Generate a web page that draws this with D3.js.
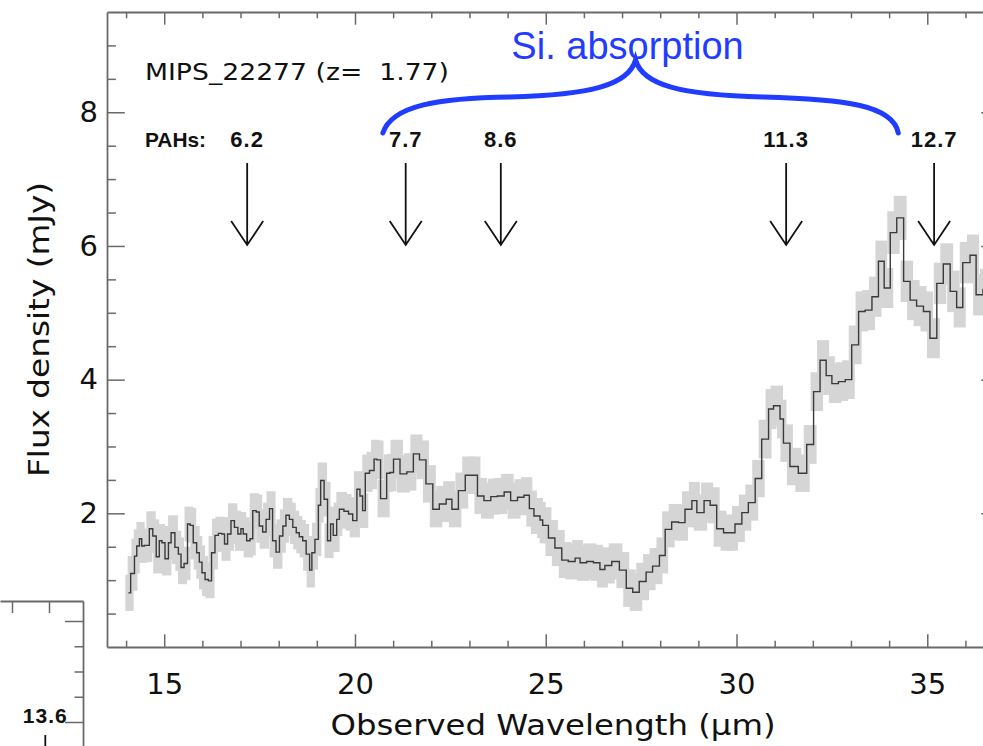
<!DOCTYPE html>
<html>
<head>
<meta charset="utf-8">
<script src="https://cdn.jsdelivr.net/npm/d3@7"></script>
<style>
body{margin:0;background:#fff;overflow:hidden}
</style>
</head>
<body>
<script>
// spectrum of MIPS_22277 (bin left edges + final right edge, in micron)
var waveEdges = [14.06,14.12,14.22,14.28,14.35,14.41,14.48,14.61,14.70,14.79,
  14.87,14.94,15.02,15.11,15.18,15.28,15.37,15.44,15.52,15.61,
  15.68,15.76,15.85,15.92,15.99,16.07,16.16,16.24,16.33,16.42,
  16.51,16.58,16.66,16.75,16.84,16.93,17.01,17.07,17.16,17.25,
  17.32,17.41,17.49,17.58,17.67,17.76,17.84,17.93,18.02,18.11,
  18.19,18.28,18.37,18.46,18.54,18.63,18.72,18.81,18.87,18.95,
  19.04,19.10,19.19,19.28,19.36,19.43,19.52,19.59,19.71,19.83,
  19.94,20.05,20.13,20.20,20.27,20.38,20.50,20.57,20.67,20.83,
  20.92,21.01,21.18,21.36,21.53,21.69,21.86,22.04,22.21,22.39,
  22.54,22.71,22.89,23.05,23.21,23.38,23.56,23.73,23.91,24.08,
  24.26,24.43,24.57,24.69,24.85,24.92,25.07,25.24,25.42,25.59,
  25.77,25.90,26.07,26.25,26.42,26.55,26.73,26.93,27.11,27.28,
  27.45,27.63,27.80,27.98,28.13,28.30,28.48,28.65,28.83,28.96,
  29.15,29.31,29.48,29.66,29.83,29.96,30.14,30.31,30.49,30.66,
  30.84,30.97,31.14,31.23,31.40,31.62,31.84,32.02,32.19,32.35,
  32.50,32.67,32.85,33.02,33.20,33.37,33.55,33.72,33.87,34.03,
  34.20,34.38,34.55,34.72,34.90,35.07,35.25,35.42,35.60,35.77,
  35.93,36.12,36.28,36.46,36.70];
var fluxValues = [0.81,1.10,1.36,1.51,1.62,1.51,1.52,1.77,1.66,1.35,
  1.59,1.56,1.32,1.56,1.71,1.49,1.39,1.19,1.25,1.84,
  1.82,1.56,1.41,1.27,1.11,1.01,0.99,1.41,1.67,1.70,
  1.69,1.54,1.69,1.89,1.79,1.69,1.77,1.69,1.59,1.62,
  2.04,2.02,1.81,1.72,1.91,2.07,1.59,1.42,1.66,1.81,
  1.97,1.91,1.79,1.71,1.65,1.59,1.39,1.15,1.41,1.61,
  2.12,2.49,2.21,1.59,1.84,1.67,1.91,2.06,2.03,1.99,
  1.89,2.36,2.26,2.04,2.60,2.64,2.81,2.80,2.22,2.60,
  2.61,2.81,2.59,2.62,2.89,2.80,2.44,2.06,2.14,2.21,
  2.06,2.34,2.57,2.57,2.26,2.19,2.25,2.26,2.32,2.19,
  2.24,2.27,2.07,1.96,1.90,1.82,1.63,1.48,1.30,1.28,
  1.33,1.26,1.28,1.26,1.16,1.22,1.28,1.15,0.88,0.82,
  0.98,1.12,1.21,1.37,1.76,1.87,1.86,2.06,2.19,2.01,
  2.19,2.12,1.77,1.71,1.71,1.84,2.01,2.16,2.52,3.11,
  3.56,3.61,3.41,3.05,2.70,2.60,3.03,3.82,4.29,4.06,
  3.94,3.97,4.00,4.52,5.02,5.04,5.24,5.77,5.37,6.20,
  6.42,5.47,5.19,5.10,5.02,4.62,5.44,5.73,5.32,5.08,
  5.75,5.86,5.27,5.35];
var fluxErrors = [0.27,0.26,0.26,0.25,0.25,0.25,0.25,0.26,0.25,0.25,
  0.25,0.25,0.25,0.25,0.26,0.25,0.25,0.25,0.25,0.26,
  0.26,0.25,0.25,0.25,0.25,0.25,0.26,0.25,0.25,0.25,
  0.25,0.25,0.25,0.26,0.25,0.25,0.25,0.25,0.25,0.25,
  0.26,0.26,0.25,0.25,0.25,0.26,0.25,0.25,0.25,0.25,
  0.26,0.25,0.25,0.25,0.25,0.25,0.25,0.26,0.25,0.25,
  0.26,0.27,0.26,0.26,0.26,0.25,0.25,0.26,0.26,0.25,
  0.25,0.27,0.26,0.26,0.28,0.28,0.29,0.29,0.28,0.28,
  0.28,0.29,0.28,0.28,0.29,0.29,0.28,0.27,0.27,0.27,
  0.27,0.27,0.28,0.28,0.27,0.27,0.27,0.27,0.27,0.27,
  0.27,0.27,0.27,0.27,0.27,0.27,0.27,0.27,0.27,0.27,
  0.27,0.27,0.27,0.27,0.27,0.27,0.27,0.27,0.28,0.28,
  0.28,0.27,0.27,0.27,0.27,0.27,0.27,0.27,0.28,0.27,
  0.27,0.27,0.27,0.27,0.27,0.27,0.27,0.27,0.28,0.29,
  0.30,0.30,0.29,0.28,0.28,0.28,0.29,0.29,0.30,0.29,
  0.29,0.29,0.29,0.29,0.30,0.30,0.30,0.31,0.30,0.32,
  0.33,0.31,0.30,0.30,0.30,0.30,0.31,0.31,0.31,0.30,
  0.31,0.31,0.31,0.31];

var xTickValues = [15,20,25,30,35];
var xMinorTicks = [14,16,17,18,19,21,22,23,24,26,27,28,29,31,32,33,34,36];
var yTickValues = [2,4,6,8];
var yMinorTicks = [0.5,1,1.5,2.5,3,3.5,4.5,5,5.5,6.5,7,7.5,8.5,9];

var sourceName = "MIPS_22277";
var redshift = 1.77;
var pahRest = [6.2,7.7,8.6,11.3,12.7];
var pahLabels = ["6.2","7.7","8.6","11.3","12.7"];
var siRange = [20.73,34.24];   // observed micron covered by the brace

// bits of the neighbouring panel peeking in at the bottom left
var fragTopTicks = [0,1];
var fragSideTicks = [0,1];
var fragSideMinor = [0.25,0.5,0.75];
var fragLabel = "13.6";
var fragArrowAt = 0.9;

var svgWidth = 983, svgHeight = 746;
var plot = {left:107, right:999, top:12, bottom:647};
var axisColor = "#6a6a6a";
var thinFont = "'DejaVu Sans', sans-serif";
var boldFont = "'Liberation Sans', Arial, sans-serif";

var svg = d3.select("body").append("svg")
    .attr("width", svgWidth)
    .attr("height", svgHeight)
    .style("font-family", thinFont);

var x = d3.scaleLinear().domain([13.5, 36.88]).range([plot.left, plot.right]);
var y = d3.scaleLinear().domain([0, 9.5]).range([plot.bottom, plot.top]);

svg.append("clipPath").attr("id", "plotClip")
  .append("rect")
  .attr("x", plot.left).attr("y", plot.top)
  .attr("width", plot.right - plot.left)
  .attr("height", plot.bottom - plot.top);

var bins = fluxValues.map(function(v, i){
  return {w0: waveEdges[i], w1: waveEdges[i+1], f: v, e: fluxErrors[i]};
});

// step points: every left edge, then the last right edge carrying the last value
var pts = bins.map(function(b){ return {w: b.w0, f: b.f}; });
pts.push({w: bins[bins.length-1].w1, f: bins[bins.length-1].f});

var line = d3.line()
    .curve(d3.curveStepAfter)
    .x(function(d){ return x(d.w); })
    .y(function(d){ return y(d.f); });

var spec = svg.append("g").attr("clip-path", "url(#plotClip)");

// error bars drawn as thick grey blocks, a bit wider than the bin
var barPad = 6;
spec.selectAll(".errBar")
  .data(bins)
  .enter().append("rect")
  .attr("class", "errBar")
  .attr("x", function(b){ return x(b.w0) - barPad / 2; })
  .attr("width", function(b){ return x(b.w1) - x(b.w0) + barPad; })
  .attr("y", function(b){ return y(b.f + b.e); })
  .attr("height", function(b){ return y(b.f - b.e) - y(b.f + b.e); })
  .attr("fill", "#d5d5d5");

spec.append("path").datum(pts)
  .attr("d", line)
  .attr("fill", "none")
  .attr("stroke", "#3a3a3a")
  .attr("stroke-width", 1.4);

// axes, IDL style: ticks on all four sides pointing in
function styleAxis(g){
  g.selectAll(".domain").attr("stroke", axisColor).attr("stroke-width", 1.8);
  g.selectAll(".tick line").attr("stroke", axisColor).attr("stroke-width", 1.5);
  g.selectAll("text").attr("fill", "#111").style("font-family", thinFont);
}

var gb = svg.append("g").attr("transform", "translate(0," + plot.bottom + ")")
  .call(d3.axisBottom(x).tickValues(xTickValues).tickSize(-12.7).tickSizeOuter(0).tickPadding(26));
styleAxis(gb);
gb.selectAll("text").attr("font-size", 29);
var gbm = svg.append("g").attr("transform", "translate(0," + plot.bottom + ")")
  .call(d3.axisBottom(x).tickValues(xMinorTicks).tickSize(-6.3).tickFormat(""));
gbm.select(".domain").remove();
styleAxis(gbm);

var gt = svg.append("g").attr("transform", "translate(0," + plot.top + ")")
  .call(d3.axisTop(x).tickValues(xTickValues).tickSize(-12.7).tickSizeOuter(0).tickFormat(""));
styleAxis(gt);
var gtm = svg.append("g").attr("transform", "translate(0," + plot.top + ")")
  .call(d3.axisTop(x).tickValues(xMinorTicks).tickSize(-6.3).tickFormat(""));
gtm.select(".domain").remove();
styleAxis(gtm);

var gl = svg.append("g").attr("transform", "translate(" + plot.left + ",0)")
  .call(d3.axisLeft(y).tickValues(yTickValues).tickSize(-17.8).tickSizeOuter(0).tickPadding(9));
styleAxis(gl);
gl.selectAll("text").attr("font-size", 29);
var glm = svg.append("g").attr("transform", "translate(" + plot.left + ",0)")
  .call(d3.axisLeft(y).tickValues(yMinorTicks).tickSize(-8.9).tickFormat(""));
glm.select(".domain").remove();
styleAxis(glm);

var gr = svg.append("g").attr("transform", "translate(" + plot.right + ",0)")
  .call(d3.axisRight(y).tickValues(yTickValues).tickSize(-17.8).tickSizeOuter(0).tickFormat(""));
styleAxis(gr);
var grm = svg.append("g").attr("transform", "translate(" + plot.right + ",0)")
  .call(d3.axisRight(y).tickValues(yMinorTicks).tickSize(-8.9).tickFormat(""));
grm.select(".domain").remove();
styleAxis(grm);

// axis titles
svg.append("text")
  .attr("x", (plot.left + plot.right) / 2)
  .attr("y", 735)
  .attr("text-anchor", "middle")
  .attr("font-size", 28)
  .attr("textLength", 445)
  .attr("lengthAdjust", "spacingAndGlyphs")
  .attr("fill", "#111")
  .text("Observed Wavelength (\u03bcm)");

svg.append("text")
  .attr("transform", "translate(49," + ((plot.top + plot.bottom) / 2) + ") rotate(-90)")
  .attr("text-anchor", "middle")
  .attr("font-size", 28)
  .attr("textLength", 295)
  .attr("lengthAdjust", "spacingAndGlyphs")
  .attr("fill", "#111")
  .text("Flux density (mJy)");

// source name
svg.append("text")
  .attr("x", 145).attr("y", 80)
  .attr("font-size", 23)
  .attr("textLength", 304)
  .attr("lengthAdjust", "spacingAndGlyphs")
  .attr("fill", "#111")
  .style("white-space", "pre")
  .text(sourceName + " (z=  " + redshift.toFixed(2) + ")");

// PAH markers
svg.append("text")
  .attr("x", 145).attr("y", 147)
  .attr("font-size", 21)
  .attr("font-weight", "bold")
  .attr("textLength", 61)
  .attr("lengthAdjust", "spacingAndGlyphs")
  .attr("fill", "#111")
  .style("font-family", boldFont)
  .text("PAHs:");

var pahX = pahRest.map(function(r){ return x(r * (1 + redshift)); });

svg.selectAll(".pahLabel")
  .data(pahLabels)
  .enter().append("text")
  .attr("class", "pahLabel")
  .attr("x", function(d, i){ return pahX[i]; })
  .attr("y", 147)
  .attr("text-anchor", "middle")
  .attr("font-size", 22)
  .attr("font-weight", "bold")
  .attr("letter-spacing", 1)
  .attr("fill", "#111")
  .style("font-family", boldFont)
  .text(function(d){ return d; });

var arrowTop = 163, arrowTip = 245, headLen = 24, headHalf = 16;
svg.selectAll(".pahArrow")
  .data(pahX)
  .enter().append("path")
  .attr("class", "pahArrow")
  .attr("fill", "none")
  .attr("stroke", "#111")
  .attr("stroke-width", 1.8)
  .attr("d", function(px){
    return "M" + px + "," + arrowTop + "L" + px + "," + arrowTip +
      "M" + (px - headHalf) + "," + (arrowTip - headLen) + "L" + px + "," + arrowTip +
      "L" + (px + headHalf) + "," + (arrowTip - headLen);
  });

// Si absorption brace
var bx0 = x(siRange[0]), bx1 = x(siRange[1]), bxm = (bx0 + bx1) / 2 - 5;
var byTip = 133, byCusp = 60;
var brace = "M" + bx0 + "," + byTip +
  " C" + (bx0 + 9) + "," + (byTip - 28) + " " + (bx0 + 57) + "," + (byTip - 35) + " " + (bx0 + 127) + "," + (byTip - 36) +
  " C" + (bxm - 45) + "," + (byTip - 38) + " " + (bxm - 7) + "," + (byTip - 48) + " " + bxm + "," + byCusp +
  " C" + (bxm + 7) + "," + (byTip - 48) + " " + (bxm + 45) + "," + (byTip - 38) + " " + (bx1 - 135) + "," + (byTip - 36) +
  " C" + (bx1 - 55) + "," + (byTip - 34) + " " + (bx1 - 5) + "," + (byTip - 28) + " " + bx1 + "," + byTip;
svg.append("path")
  .attr("d", brace)
  .attr("fill", "none")
  .attr("stroke", "#1f3cff")
  .attr("stroke-width", 5)
  .attr("stroke-linecap", "round");

svg.append("text")
  .attr("x", bxm - 8).attr("y", 59)
  .attr("text-anchor", "middle")
  .attr("font-size", 38)
  .attr("fill", "#1f3cff")
  .style("font-family", boldFont)
  .text("Si. absorption");

// neighbouring panel corner
var fragX = d3.scaleLinear().domain([0, 1]).range([12, 49]);
var fragXAxis = fragX.copy().domain([fragX.invert(0), fragX.invert(83)]).range([0, 83]);
var fragY = d3.scaleLinear().domain([0, 1]).range([722, 621]);
var fragYAxis = fragY.copy().domain([fragY.invert(770), fragY.invert(601)]).range([770, 601]);

var ft = svg.append("g").attr("transform", "translate(0,601)")
  .call(d3.axisTop(fragXAxis).tickValues(fragTopTicks).tickSize(-12).tickSizeOuter(0).tickFormat(""));
styleAxis(ft);
var fs = svg.append("g").attr("transform", "translate(83,0)")
  .call(d3.axisLeft(fragYAxis).tickValues(fragSideTicks).tickSize(18).tickSizeOuter(0).tickFormat(""));
styleAxis(fs);
var fsm = svg.append("g").attr("transform", "translate(83,0)")
  .call(d3.axisLeft(fragYAxis).tickValues(fragSideMinor).tickSize(8.5).tickFormat(""));
fsm.select(".domain").remove();
styleAxis(fsm);

svg.append("text")
  .attr("x", fragXAxis(fragArrowAt)).attr("y", 723)
  .attr("text-anchor", "middle")
  .attr("font-size", 21)
  .attr("font-weight", "bold")
  .attr("letter-spacing", 1)
  .attr("fill", "#111")
  .style("font-family", boldFont)
  .text(fragLabel);
svg.append("line")
  .attr("x1", fragXAxis(fragArrowAt)).attr("x2", fragXAxis(fragArrowAt))
  .attr("y1", 735).attr("y2", 760)
  .attr("stroke", "#111").attr("stroke-width", 1.8);
</script>
</body>
</html>
